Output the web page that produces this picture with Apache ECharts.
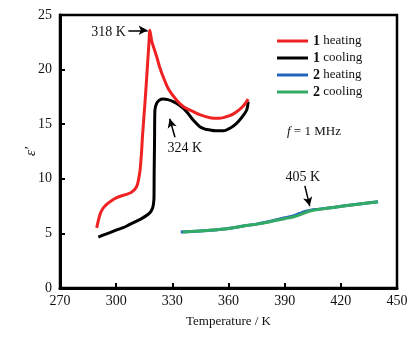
<!DOCTYPE html>
<html><head><meta charset="utf-8">
<script src="https://cdn.jsdelivr.net/npm/echarts@6/dist/echarts.min.js"></script>
<style>html,body{margin:0;padding:0;background:#fff}#c{width:420px;height:342px}</style>
</head><body><div id="c"></div>
<script>
const xTicks = [270, 300, 330, 360, 390, 420, 450];
const yTicks = [0, 5, 10, 15, 20, 25];

const t1h = [289.6, 291.4, 293, 294.9, 297.5, 300.3, 303, 305.6, 308, 310.0, 311.2, 311.8, 312.7, 313.5, 314.1, 315.4, 316.5, 317.5, 318.0, 319.0, 320.3, 321.6, 323.3, 325.1, 328, 332.3, 336, 341.2, 345, 350.1, 355, 360.8, 364, 367.9, 370.5];
const e1h = [5.5, 6.75, 7.3, 7.66, 8.0, 8.27, 8.45, 8.58, 8.75, 9.04, 9.4, 9.8, 10.7, 12.3, 14.0, 17.0, 19.8, 22.4, 23.6, 22.6, 21.9, 21.2, 20.2, 19.35, 18.2, 17.2, 16.6, 16.15, 15.85, 15.6, 15.55, 15.8, 16.1, 16.67, 17.3];

const t1c = [290.5, 293, 296.7, 300, 303.8, 307, 310.9, 314, 317.1, 318.5, 319.5, 320.0, 320.2, 320.3, 320.5, 320.7, 321.6, 323, 325.1, 327.5, 330.5, 334, 337.6, 341, 344.7, 347.5, 350.1, 353, 357.2, 361, 364.3, 367, 369.7, 370.5];
const e1c = [4.67, 4.85, 5.07, 5.3, 5.52, 5.8, 6.13, 6.4, 6.75, 7.0, 7.35, 7.8, 8.27, 10.7, 13.5, 16.3, 16.9, 17.2, 17.3, 17.25, 17.06, 16.7, 16.15, 15.4, 14.77, 14.55, 14.47, 14.4, 14.4, 14.65, 15.08, 15.6, 16.3, 17.06];

const t2h = [334.5, 340, 345, 350.1, 355, 360, 367.9, 375, 380, 385.7, 390, 394.5, 398, 401, 403.5, 406, 412.4, 421.2, 430, 439.9];
const e2h = [5.12, 5.18, 5.23, 5.28, 5.35, 5.45, 5.68, 5.85, 6.02, 6.25, 6.43, 6.6, 6.82, 7.0, 7.1, 7.18, 7.3, 7.5, 7.7, 7.9];
const t2c = [335.5, 340, 345, 350.1, 355, 360, 367.9, 375, 380, 385.7, 390, 394.5, 398, 401, 403.5, 406, 412.4, 421.2, 430, 439.9];
const e2c = [5.13, 5.18, 5.23, 5.28, 5.35, 5.45, 5.68, 5.85, 6.0, 6.2, 6.35, 6.5, 6.7, 6.9, 7.05, 7.15, 7.3, 7.5, 7.7, 7.9];

const seriesNames = ['1 heating', '1 cooling', '2 heating', '2 cooling'];
const seriesColors = ['#ee2222', '#000000', '#2266bb', '#33aa66'];

const notes = [
  {text: '318 K', pos: [295.9, 23.45], from: [306.5, 23.6], to: [316.8, 23.6]},
  {text: '324 K', pos: [336.7, 12.8], from: [331.4, 13.8], to: [328.6, 15.5]},
  {text: '405 K', pos: [399.7, 10.1], from: [400.8, 9.35], to: [403.4, 7.5]}
];

const zip = (a, b) => a.map((v, i) => [v, b[i]]);
const serif = '"Liberation Serif", "DejaVu Serif", serif';

const chart = echarts.init(document.getElementById('c'));
const mk = (name, t, e, color, extra) => Object.assign({
  name, type: 'line', data: zip(t, e), symbol: 'none', smooth: 0.3,
  lineStyle: {color, width: 3}, itemStyle: {color}, z: 3
}, extra || {});

chart.setOption({
  animation: false,
  grid: {left: 60, right: 23, top: 15, bottom: 54, show: true, borderColor: '#000', borderWidth: 2.5, backgroundColor: 'transparent'},
  legend: {
    orient: 'vertical', left: 272, top: 29, itemWidth: 31, itemHeight: 14, itemGap: 3,
    data: seriesNames,
    icon: 'path://M0,0 L31,0 L31,3 L0,3 Z', symbolKeepAspect: true,
    textStyle: {fontFamily: serif, fontSize: 13, color: '#111',
      rich: {b: {fontWeight: 'bold', fontFamily: serif, fontSize: 14, color: '#111'}}},
    formatter: n => { const p = n.split(' '); return '{b|' + p[0] + '} ' + p[1]; },
  },
  xAxis: {
    type: 'value', min: 270, max: 450, interval: 30,
    name: 'Temperature / K', nameLocation: 'middle', nameGap: 27,
    nameTextStyle: {fontFamily: serif, fontSize: 13, color: '#111'},
    axisLine: {lineStyle: {color: '#000', width: 3}},
    axisTick: {inside: true, length: 5, lineStyle: {width: 2, color: '#000'}},
    axisLabel: {fontFamily: serif, fontSize: 14, color: '#111', margin: 6, formatter: v => xTicks.includes(v) ? String(v) : ''},
    splitLine: {show: false}
  },
  yAxis: {
    type: 'value', min: 0, max: 25, interval: 5,
    name: 'ε′', nameLocation: 'middle', nameGap: 21, nameRotate: 90, nameMoveOverlap: false,
    nameTextStyle: {fontFamily: serif, fontSize: 15, fontStyle: 'italic', color: '#111'},
    axisLine: {lineStyle: {color: '#000', width: 3}},
    axisTick: {inside: true, length: 5, lineStyle: {width: 2, color: '#000'}},
    axisLabel: {fontFamily: serif, fontSize: 14, color: '#111', margin: 8, formatter: v => yTicks.includes(v) ? String(v) : ''},
    splitLine: {show: false}
  },
  graphic: [{
    type: 'text', left: 287, top: 125,
    style: {text: '{i|f} = 1 MHz', font: '13px ' + serif, fill: '#111',
      rich: {i: {fontStyle: 'italic', fontFamily: serif, fontSize: 13}}}
  }],
  series: [
    mk(seriesNames[1], t1c, e1c, seriesColors[1]),
    mk(seriesNames[0], t1h, e1h, seriesColors[0], {
      markLine: {
        silent: true, symbol: ['none', 'arrow'], symbolSize: [7, 9],
        lineStyle: {color: '#000', width: 1.5, type: 'solid'}, label: {show: false},
        data: notes.map(n => [{coord: n.from}, {coord: n.to}])
      },
      markPoint: {
        silent: true, symbol: 'circle', symbolSize: 0,
        label: {show: true, position: 'inside', fontFamily: serif, fontSize: 14, color: '#111', formatter: p => p.name},
        data: notes.map(n => ({name: n.text, coord: n.pos}))
      }
    }),
    mk(seriesNames[2], t2h, e2h, seriesColors[2]),
    mk(seriesNames[3], t2c, e2c, seriesColors[3])
  ]
});
</script></body></html>
